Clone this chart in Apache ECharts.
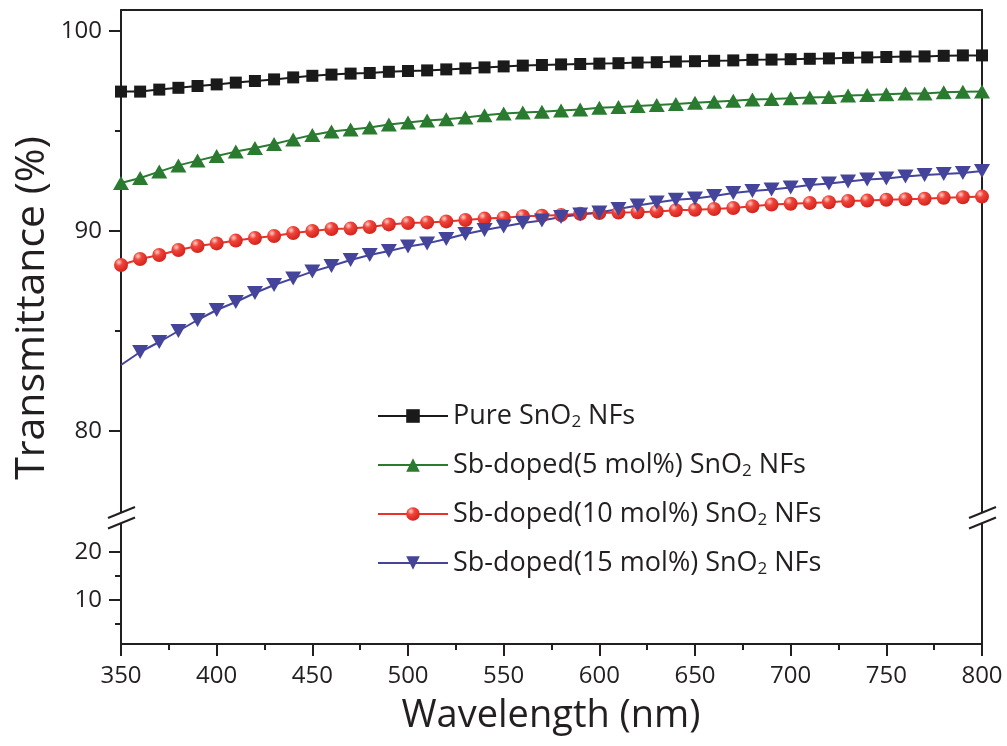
<!DOCTYPE html>
<html>
<head>
<meta charset="utf-8">
<script src="https://cdn.jsdelivr.net/npm/echarts@6/dist/echarts.min.js"></script>
<style>
  html, body { margin: 0; padding: 0; background: #fff; }
  #main { width: 1007px; height: 746px; }
</style>
</head>
<body>
<div id="main"></div>
<script>
// wavelength (nm)
var wavelength = [350, 360, 370, 380, 390, 400, 410, 420, 430, 440, 450, 460, 470, 480, 490,
  500, 510, 520, 530, 540, 550, 560, 570, 580, 590, 600, 610, 620, 630, 640, 650, 660, 670,
  680, 690, 700, 710, 720, 730, 740, 750, 760, 770, 780, 790, 800];

// transmittance (%)
var pure = [96.97, 96.97, 97.07, 97.16, 97.25, 97.33, 97.42, 97.5, 97.58, 97.68, 97.76, 97.82,
  97.87, 97.9, 97.96, 98.0, 98.03, 98.08, 98.13, 98.18, 98.23, 98.27, 98.3, 98.33, 98.35, 98.37,
  98.39, 98.42, 98.44, 98.47, 98.49, 98.51, 98.53, 98.56, 98.57, 98.59, 98.61, 98.63, 98.66,
  98.68, 98.7, 98.72, 98.73, 98.76, 98.78, 98.78];
var sb5 = [92.4, 92.65, 92.97, 93.28, 93.52, 93.75, 93.97, 94.15, 94.35, 94.58, 94.8, 94.97,
  95.08, 95.18, 95.32, 95.42, 95.52, 95.59, 95.68, 95.79, 95.87, 95.92, 95.96, 96.03, 96.07,
  96.16, 96.2, 96.25, 96.3, 96.35, 96.41, 96.46, 96.51, 96.58, 96.6, 96.64, 96.68, 96.7, 96.77,
  96.8, 96.84, 96.87, 96.88, 96.94, 96.96, 96.97];
var sb10 = [88.3, 88.6, 88.8, 89.05, 89.25, 89.38, 89.52, 89.65, 89.75, 89.9, 90.0, 90.1,
  90.12, 90.2, 90.33, 90.4, 90.43, 90.48, 90.55, 90.62, 90.66, 90.74, 90.76, 90.8, 90.86, 90.9,
  90.92, 90.94, 90.98, 91.04, 91.06, 91.1, 91.15, 91.24, 91.32, 91.36, 91.4, 91.44, 91.5,
  91.52, 91.56, 91.59, 91.61, 91.66, 91.69, 91.72];
var sb15 = [83.3, 83.95, 84.45, 85.0, 85.55, 86.05, 86.45, 86.9, 87.3, 87.63, 87.97, 88.25,
  88.55, 88.8, 89.0, 89.22, 89.38, 89.6, 89.85, 90.05, 90.22, 90.4, 90.52, 90.7, 90.82, 90.93,
  91.1, 91.27, 91.42, 91.56, 91.63, 91.75, 91.9, 92.0, 92.08, 92.18, 92.3, 92.38, 92.47, 92.57,
  92.63, 92.73, 92.8, 92.85, 92.9, 93.0];

var seriesNames = ['Pure SnO2 NFs', 'Sb-doped(5 mol%) SnO2 NFs',
  'Sb-doped(10 mol%) SnO2 NFs', 'Sb-doped(15 mol%) SnO2 NFs'];

var upperTicks = [80, 90, 100];
var upperMinor = [85, 95];
var lowerTicks = [10, 20];
var lowerMinor = [5, 15];

var FONT = '"Open Sans", "Noto Sans", sans-serif';
var INK = '#231f20';

function pairs(ys) {
  return wavelength.map(function (x, i) { return [x, ys[i]]; });
}

var myChart = echarts.init(document.getElementById('main'));

var redBall = new echarts.graphic.RadialGradient(0.35, 0.3, 0.75, [
  { offset: 0, color: '#ffd0c8' },
  { offset: 0.35, color: '#f0443a' },
  { offset: 1, color: '#d0201a' }
]);

// left axis with big ticks + labels
function mainY(grid, min, max, ticks) {
  return {
    type: 'value', gridIndex: grid, position: 'left', min: min, max: max,
    axisLine: { show: true, lineStyle: { color: INK, width: 2 } },
    axisTick: { show: true, inside: false, length: 12, customValues: ticks,
      lineStyle: { color: INK, width: 2 } },
    axisLabel: { show: true, customValues: ticks, margin: 19, fontSize: 24,
      fontFamily: FONT, color: INK },
    splitLine: { show: false }
  };
}
// short ticks only
function minorY(grid, min, max, ticks) {
  return {
    type: 'value', gridIndex: grid, position: 'left', min: min, max: max,
    axisLine: { show: false },
    axisTick: { show: true, length: 6, customValues: ticks,
      lineStyle: { color: INK, width: 2 } },
    axisLabel: { show: false },
    splitLine: { show: false }
  };
}
function rightY(grid, min, max) {
  return {
    type: 'value', gridIndex: grid, position: 'right', min: min, max: max,
    axisLine: { show: true, lineStyle: { color: INK, width: 2 } },
    axisTick: { show: false }, axisLabel: { show: false }, splitLine: { show: false }
  };
}

// break marks drawn over both side axes
function breakMark(x) {
  return [
    { type: 'polygon', silent: true, z: 100,
      shape: { points: [[x - 13, 518], [x + 14, 507], [x + 14, 517], [x - 13, 528]] },
      style: { fill: '#fff' } },
    { type: 'line', silent: true, z: 101,
      shape: { x1: x - 13, y1: 518, x2: x + 14, y2: 507 },
      style: { stroke: INK, lineWidth: 2 } },
    { type: 'line', silent: true, z: 101,
      shape: { x1: x - 13, y1: 528.5, x2: x + 14, y2: 517.5 },
      style: { stroke: INK, lineWidth: 2 } }
  ];
}

myChart.setOption({
  animation: false,
  backgroundColor: '#fff',
  grid: [
    { left: 121, top: 10, width: 861, height: 502, containLabel: false, outerBoundsMode: 'none' },
    { left: 121, top: 523, width: 861, height: 121, containLabel: false, outerBoundsMode: 'none' }
  ],
  xAxis: [
    {
      type: 'value', gridIndex: 0, position: 'top', min: 350, max: 800, interval: 50,
      axisLine: { show: true, lineStyle: { color: INK, width: 2 } },
      axisTick: { show: false }, axisLabel: { show: false }, splitLine: { show: false }
    },
    {
      type: 'value', gridIndex: 1, position: 'bottom', min: 350, max: 800, interval: 50,
      axisLine: { show: true, lineStyle: { color: INK, width: 2 } },
      axisTick: { show: true, length: 12, lineStyle: { color: INK, width: 2 } },
      minorTick: { show: true, splitNumber: 2, length: 6, lineStyle: { color: INK, width: 2 } },
      axisLabel: { margin: 20, fontSize: 24, fontFamily: FONT, color: INK },
      splitLine: { show: false }
    }
  ],
  yAxis: [
    mainY(0, 75.95, 101.05, upperTicks),
    minorY(0, 75.95, 101.05, upperMinor),
    rightY(0, 75.95, 101.05),
    mainY(1, 0.83, 26.04, lowerTicks),
    minorY(1, 0.83, 26.04, lowerMinor),
    rightY(1, 0.83, 26.04)
  ],
  legend: {
    orient: 'vertical',
    left: 372,
    top: 396,
    itemWidth: 70,
    itemHeight: 17,
    itemGap: 19,
    data: seriesNames,
    formatter: function (name) {
      return name.replace('SnO2', 'SnO{sub|2}');
    },
    textStyle: {
      fontSize: 27, fontFamily: FONT, color: INK, lineHeight: 30,
      rich: {
        sub: { fontSize: 17, fontFamily: FONT, color: INK, lineHeight: 30,
          verticalAlign: 'bottom', padding: [12, 0, 0, 0] }
      }
    }
  },
  graphic: [
    {
      type: 'text', silent: true,
      x: 551, y: 697,
      style: { text: 'Wavelength (nm)', fontSize: 38, fontFamily: FONT, fill: INK,
        align: 'center', verticalAlign: 'top' }
    },
    {
      type: 'text', silent: true, rotation: Math.PI / 2,
      x: 12, y: 308,
      style: { text: 'Transmittance (%)', fontSize: 41, fontFamily: FONT, fill: INK,
        align: 'center', verticalAlign: 'top' }
    }
  ].concat(breakMark(121), breakMark(982)),
  series: [
    {
      name: seriesNames[0], type: 'line', xAxisIndex: 0, yAxisIndex: 0,
      data: pairs(pure), symbol: 'rect', symbolSize: 12,
      lineStyle: { color: '#1a1a1a', width: 2 },
      itemStyle: { color: '#1a1a1a' }
    },
    {
      name: seriesNames[1], type: 'line', xAxisIndex: 0, yAxisIndex: 0,
      data: pairs(sb5), symbol: 'triangle', symbolSize: [16, 14],
      lineStyle: { color: '#2a7a30', width: 2 },
      itemStyle: { color: '#2a7a30' }
    },
    {
      name: seriesNames[2], type: 'line', xAxisIndex: 0, yAxisIndex: 0,
      data: pairs(sb10), symbol: 'circle', symbolSize: 14,
      lineStyle: { color: '#e8322a', width: 2 },
      itemStyle: { color: redBall }
    },
    {
      name: seriesNames[3], type: 'line', xAxisIndex: 0, yAxisIndex: 0,
      data: pairs(sb15), symbol: 'triangle', symbolRotate: 180,
      symbolSize: function (v, p) { return p.dataIndex === 0 ? 0 : [16, 14]; },
      lineStyle: { color: '#44449a', width: 2 },
      itemStyle: { color: '#44449a' }
    }
  ]
});
</script>
</body>
</html>
